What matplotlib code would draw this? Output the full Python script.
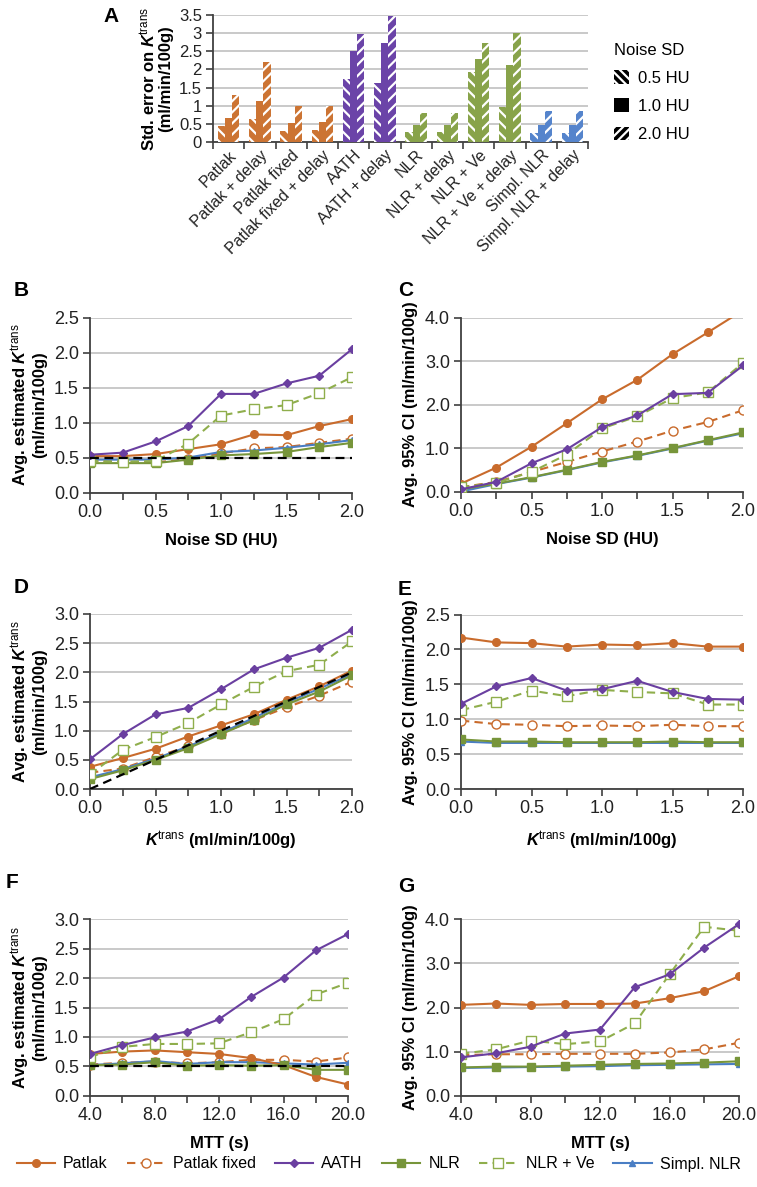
import numpy as np
import matplotlib
matplotlib.use("Agg")
import matplotlib.pyplot as plt
from matplotlib.patches import Patch
from matplotlib.lines import Line2D

plt.rcParams['font.family'] = ['Liberation Sans', 'DejaVu Sans']
plt.rcParams['mathtext.fontset'] = 'custom'
plt.rcParams['mathtext.rm'] = 'Liberation Sans'
plt.rcParams['mathtext.it'] = 'Liberation Sans:italic'
plt.rcParams['mathtext.bf'] = 'Liberation Sans:bold'
plt.rcParams['mathtext.bfit'] = 'Liberation Sans:italic:bold'
plt.rcParams['hatch.linewidth'] = 1.6

# ---------------- Panel A data ----------------
a_categories = ["Patlak", "Patlak + delay", "Patlak fixed", "Patlak fixed + delay",
                "AATH", "AATH + delay", "NLR", "NLR + delay", "NLR + Ve",
                "NLR + Ve + delay", "Simpl. NLR", "Simpl. NLR + delay"]
a_noise_labels = ["0.5 HU", "1.0 HU", "2.0 HU"]
a_se_05 = [0.45, 0.63, 0.30, 0.32, 1.73, 1.63, 0.27, 0.27, 1.94, 0.96, 0.25, 0.25]
a_se_10 = [0.65, 1.12, 0.53, 0.55, 2.52, 2.73, 0.47, 0.47, 2.30, 2.12, 0.47, 0.47]
a_se_20 = [1.30, 2.20, 0.98, 1.00, 2.97, 3.48, 0.80, 0.80, 2.72, 3.00, 0.85, 0.85]
a_groups = ["Patlak"] * 4 + ["AATH"] * 2 + ["NLR"] * 4 + ["Simpl"] * 2

# ---------------- Line panel data ----------------
methods = ["Patlak", "Patlak fixed", "AATH", "NLR", "NLR + Ve", "Simpl. NLR"]

noise_sd = [0.0, 0.25, 0.5, 0.75, 1.0, 1.25, 1.5, 1.75, 2.0]
b_true = 0.5
b_vals = {
    "Patlak":       [0.52, 0.52, 0.55, 0.62, 0.69, 0.83, 0.82, 0.95, 1.05],
    "Patlak fixed": [0.45, 0.44, 0.43, 0.48, 0.56, 0.63, 0.65, 0.71, 0.77],
    "AATH":         [0.54, 0.57, 0.73, 0.95, 1.41, 1.41, 1.56, 1.67, 2.05],
    "NLR":          [0.42, 0.42, 0.42, 0.47, 0.53, 0.55, 0.58, 0.65, 0.71],
    "NLR + Ve":     [0.45, 0.44, 0.45, 0.70, 1.10, 1.19, 1.25, 1.42, 1.65],
    "Simpl. NLR":   [0.47, 0.47, 0.47, 0.50, 0.58, 0.60, 0.64, 0.69, 0.75],
}
c_vals = {
    "Patlak":       [0.18, 0.55, 1.03, 1.57, 2.12, 2.57, 3.16, 3.66, 4.17],
    "Patlak fixed": [0.10, 0.22, 0.45, 0.68, 0.92, 1.15, 1.40, 1.60, 1.87],
    "AATH":         [0.05, 0.22, 0.65, 0.97, 1.48, 1.75, 2.24, 2.27, 2.90],
    "NLR":          [0.05, 0.18, 0.33, 0.50, 0.68, 0.83, 1.00, 1.18, 1.36],
    "NLR + Ve":     [0.10, 0.20, 0.45, 0.85, 1.45, 1.73, 2.15, 2.28, 2.96],
    "Simpl. NLR":   [0.00, 0.17, 0.32, 0.49, 0.67, 0.82, 0.99, 1.17, 1.34],
}

ktrans = [0.0, 0.25, 0.5, 0.75, 1.0, 1.25, 1.5, 1.75, 2.0]
d_vals = {
    "Patlak":       [0.38, 0.53, 0.69, 0.90, 1.09, 1.28, 1.53, 1.76, 2.03],
    "Patlak fixed": [0.28, 0.35, 0.55, 0.73, 0.95, 1.18, 1.40, 1.60, 1.84],
    "AATH":         [0.51, 0.94, 1.28, 1.39, 1.71, 2.05, 2.25, 2.42, 2.73],
    "NLR":          [0.17, 0.32, 0.50, 0.70, 0.94, 1.18, 1.45, 1.67, 1.95],
    "NLR + Ve":     [0.25, 0.67, 0.89, 1.13, 1.45, 1.75, 2.02, 2.13, 2.53],
    "Simpl. NLR":   [0.20, 0.34, 0.52, 0.73, 0.96, 1.22, 1.48, 1.72, 1.97],
}
e_vals = {
    "Patlak":       [2.17, 2.10, 2.09, 2.04, 2.07, 2.06, 2.09, 2.04, 2.04],
    "Patlak fixed": [0.98, 0.93, 0.92, 0.90, 0.91, 0.90, 0.92, 0.90, 0.90],
    "AATH":         [1.22, 1.47, 1.59, 1.41, 1.43, 1.55, 1.39, 1.29, 1.28],
    "NLR":          [0.71, 0.68, 0.68, 0.67, 0.67, 0.67, 0.68, 0.67, 0.67],
    "NLR + Ve":     [1.13, 1.25, 1.41, 1.33, 1.42, 1.39, 1.37, 1.21, 1.21],
    "Simpl. NLR":   [0.68, 0.66, 0.66, 0.66, 0.66, 0.66, 0.66, 0.66, 0.66],
}

mtt = [4.0, 6.0, 8.0, 10.0, 12.0, 14.0, 16.0, 18.0, 20.0]
f_true = 0.5
f_vals = {
    "Patlak":       [0.71, 0.75, 0.77, 0.74, 0.71, 0.64, 0.52, 0.32, 0.19],
    "Patlak fixed": [0.53, 0.56, 0.58, 0.55, 0.57, 0.61, 0.61, 0.58, 0.65],
    "AATH":         [0.71, 0.86, 0.99, 1.09, 1.30, 1.68, 2.01, 2.47, 2.75],
    "NLR":          [0.52, 0.53, 0.57, 0.51, 0.52, 0.51, 0.52, 0.44, 0.44],
    "NLR + Ve":     [0.66, 0.83, 0.88, 0.88, 0.89, 1.08, 1.30, 1.72, 1.92],
    "Simpl. NLR":   [0.52, 0.55, 0.59, 0.54, 0.57, 0.57, 0.55, 0.53, 0.56],
}
g_vals = {
    "Patlak":       [2.06, 2.09, 2.06, 2.08, 2.08, 2.09, 2.21, 2.37, 2.71],
    "Patlak fixed": [0.92, 0.94, 0.94, 0.95, 0.95, 0.95, 0.98, 1.05, 1.20],
    "AATH":         [0.87, 0.96, 1.11, 1.41, 1.50, 2.46, 2.75, 3.36, 3.89],
    "NLR":          [0.64, 0.66, 0.66, 0.68, 0.70, 0.72, 0.73, 0.75, 0.78],
    "NLR + Ve":     [0.95, 1.05, 1.25, 1.17, 1.23, 1.64, 2.75, 3.83, 3.74],
    "Simpl. NLR":   [0.63, 0.64, 0.65, 0.66, 0.67, 0.69, 0.70, 0.71, 0.72],
}

# ---------------- Styles ----------------
ORANGE = "#c96b2c"
PURPLE = "#6a3fa0"
GREEN = "#77953a"
LGREEN = "#8fae4c"
BLUE = "#4a7ec4"
bar_colors = {"Patlak": "#cc7433", "AATH": "#6b44a8", "NLR": "#88a34a", "Simpl": "#5584cc"}

styles = {
    "Patlak":       dict(color=ORANGE, ls='-', marker='o', ms=5.5, mfc=ORANGE, mec=ORANGE, zorder=4),
    "Patlak fixed": dict(color=ORANGE, ls=(0, (4, 2.5)), marker='o', ms=6.5, mfc='white', mec=ORANGE, mew=1.0, zorder=3),
    "AATH":         dict(color=PURPLE, ls='-', marker='D', ms=4.5, mfc=PURPLE, mec=PURPLE, zorder=6),
    "NLR":          dict(color=GREEN, ls='-', marker='s', ms=5.5, mfc=GREEN, mec=GREEN, zorder=5),
    "NLR + Ve":     dict(color=LGREEN, ls=(0, (4, 2.5)), marker='s', ms=6.5, mfc='white', mec=LGREEN, mew=1.0, zorder=5),
    "Simpl. NLR":   dict(color=BLUE, ls='-', marker='^', ms=5, mfc=BLUE, mec=BLUE, zorder=4),
}
draw_order = ["Simpl. NLR", "Patlak fixed", "Patlak", "NLR", "NLR + Ve", "AATH"]

W, H = 757, 1187
fig = plt.figure(figsize=(W / 100, H / 100), dpi=100)


def rect(l, r, t, b):
    return [l / W, 1 - b / H, (r - l) / W, (b - t) / H]


SPINE = "#404040"
GRID = "#c0c0c0"
TICKFS = 13
LABFS = 12


def style_axes(ax):
    for s in ['top', 'right']:
        ax.spines[s].set_visible(False)
    for s in ['left', 'bottom']:
        ax.spines[s].set_color(SPINE)
        ax.spines[s].set_linewidth(1.3)
    ax.yaxis.grid(True, color=GRID, lw=1.2)
    ax.set_axisbelow(True)
    ax.tick_params(axis='both', which='both', direction='out', color=SPINE,
                   width=1.2, labelsize=TICKFS, labelcolor='#222222')
    ax.tick_params(axis='both', which='major', length=5, pad=3)
    ax.tick_params(axis='x', which='minor', length=5)


# ---------------- Panel A ----------------
axA = fig.add_axes(rect(213, 588, 15, 142))
style_axes(axA)
x = np.arange(len(a_categories))
bw = 0.23
hatches = ['\\\\\\', None, '///']
for k, (vals, h) in enumerate(zip([a_se_05, a_se_10, a_se_20], hatches)):
    cols = [bar_colors[g] for g in a_groups]
    axA.bar(x + (k - 1) * bw, vals, width=bw, color=cols, edgecolor='white' if h else cols,
            hatch=h, linewidth=0, zorder=3)
axA.set_xlim(-0.5, len(a_categories) - 0.5)
axA.set_ylim(0, 3.5)
axA.set_yticks(np.arange(0, 3.51, 0.5))
axA.set_yticklabels(["0", "0.5", "1", "1.5", "2", "2.5", "3", "3.5"])
axA.set_xticks(x)
axA.set_xticklabels(a_categories, rotation=45, ha='right', rotation_mode='anchor', fontsize=11.5)
axA.tick_params(axis='x', which='major', length=0, pad=4)
axA.set_xticks(np.arange(-0.5, len(a_categories), 1.0), minor=True)
axA.tick_params(axis='y', labelsize=12)
axA.set_ylabel("Std. error on $\\mathbfit{K}^{\\mathrm{trans}}$\n(ml/min/100g)",
               fontsize=12, fontweight='bold', labelpad=4, linespacing=1.0)
leg_handles = [Patch(facecolor='black', edgecolor='white', hatch='\\\\\\\\', lw=0),
               Patch(facecolor='black', edgecolor='black', lw=0),
               Patch(facecolor='black', edgecolor='white', hatch='////', lw=0)]
legA = axA.legend(leg_handles, a_noise_labels, title="Noise SD", loc='upper left',
                  bbox_to_anchor=(1.03, 0.90), frameon=False, fontsize=12,
                  title_fontsize=12, handlelength=0.9, handleheight=0.9,
                  labelspacing=0.75, handletextpad=0.5)
legA._legend_box.align = "left"
fig.text(103 / W, 1 - 16 / H, "A", fontsize=15, fontweight='bold', ha='left', va='center')


def line_panel(pos, xs, data, ylim, ystep, xlim, xmajor, xminor, xlabel, ylabel, letter, letter_xy,
               ref=None, ref_kind=None):
    ax = fig.add_axes(rect(*pos))
    style_axes(ax)
    if ref_kind == 'h':
        ax.plot([xs[0], xs[-1]], [ref, ref], color='black', ls=(0, (4, 2.5)), lw=1.6, zorder=7)
    elif ref_kind == 'id':
        ax.plot(xs, xs, color='black', ls=(0, (4, 2.5)), lw=1.6, zorder=7)
    for m in draw_order:
        st = dict(styles[m])
        z = st.pop('zorder')
        ax.plot(xs, data[m], lw=1.5, zorder=z, clip_on=True, label=m, **st)
    ax.set_xlim(*xlim)
    ax.set_ylim(*ylim)
    ax.set_yticks(np.arange(ylim[0], ylim[1] + 1e-9, ystep))
    ax.yaxis.set_major_formatter(matplotlib.ticker.FormatStrFormatter('%.1f'))
    ax.set_xticks(xmajor)
    ax.xaxis.set_major_formatter(matplotlib.ticker.FormatStrFormatter('%.1f'))
    ax.set_xticks(xminor, minor=True)
    ax.set_xlabel(xlabel, fontsize=LABFS, fontweight='bold', labelpad=9)
    ax.set_ylabel(ylabel, fontsize=LABFS, fontweight='bold', labelpad=5, linespacing=1.0)
    fig.text(letter_xy[0] / W, 1 - letter_xy[1] / H, letter, fontsize=15, fontweight='bold',
             ha='left', va='center')
    return ax


ylab_est = "Avg. estimated $\\mathbfit{K}^{\\mathrm{trans}}$\n(ml/min/100g)"
ylab_ci = "Avg. 95% CI (ml/min/100g)"
xlab_k = "$\\mathbfit{K}^{\\mathrm{trans}}$ (ml/min/100g)"

line_panel((90, 352, 317.7, 492.5), noise_sd, b_vals, (0, 2.5), 0.5, (0, 2.0),
           [0, 0.5, 1.0, 1.5, 2.0], noise_sd, "Noise SD (HU)", ylab_est, "B", (14, 290),
           ref=b_true, ref_kind='h')
line_panel((461, 743, 317.7, 491.5), noise_sd, c_vals, (0, 4.0), 1.0, (0, 2.0),
           [0, 0.5, 1.0, 1.5, 2.0], noise_sd, "Noise SD (HU)", ylab_ci, "C", (398, 290))
line_panel((90, 352, 614, 789), ktrans, d_vals, (0, 3.0), 0.5, (0, 2.0),
           [0, 0.5, 1.0, 1.5, 2.0], ktrans, xlab_k, ylab_est, "D", (14, 588),
           ref_kind='id')
line_panel((461, 743, 614.5, 789), ktrans, e_vals, (0, 2.5), 0.5, (0, 2.0),
           [0, 0.5, 1.0, 1.5, 2.0], ktrans, xlab_k, ylab_ci, "E", (398, 590))
line_panel((90, 348, 919.3, 1095.7), mtt, f_vals, (0, 3.0), 0.5, (4, 20),
           [4, 8, 12, 16, 20], mtt, "MTT (s)", ylab_est, "F", (6, 883),
           ref=f_true, ref_kind='h')
line_panel((461, 739, 919.3, 1095.7), mtt, g_vals, (0, 4.0), 1.0, (4, 20),
           [4, 8, 12, 16, 20], mtt, "MTT (s)", ylab_ci, "G", (398, 886))

# ---------------- Bottom legend ----------------
handles = []
for m in methods:
    st = dict(styles[m])
    st.pop('zorder')
    handles.append(Line2D([], [], lw=1.5, **st))
fig.legend(handles, methods, loc='center', bbox_to_anchor=(0.5, 1 - 1164 / H), ncol=6,
           frameon=False, fontsize=11.5, handlelength=2.4, columnspacing=1.2, handletextpad=0.5)

fig.savefig("out.png", dpi=100)
